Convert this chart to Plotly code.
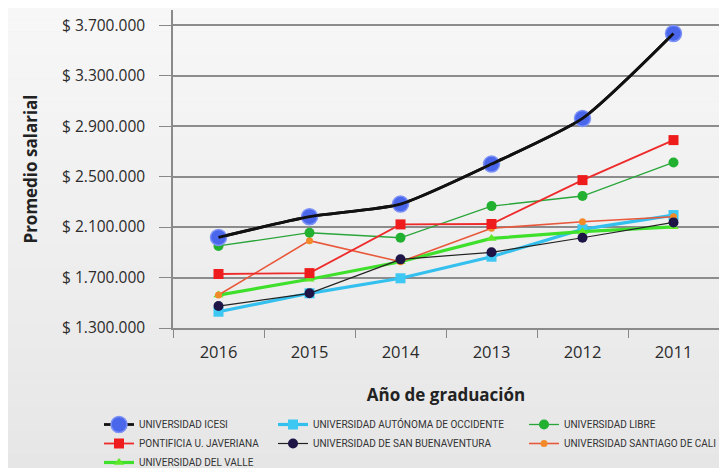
import plotly.graph_objects as go

years = ["2016", "2015", "2014", "2013", "2012", "2011"]

icesi = [2018000, 2182000, 2282000, 2599000, 2961000, 3634000]
javeriana = [1728000, 1735000, 2121000, 2124000, 2472000, 2789000]
libre = [1950000, 2055000, 2015000, 2266000, 2346000, 2612000]
santiago = [1561000, 1992000, 1825000, 2090000, 2142000, 2182000]
del_valle = [1561000, 1686000, 1825000, 2010000, 2063000, 2102000]
autonoma = [1429000, 1575000, 1694000, 1865000, 2082000, 2195000]
san_buenaventura = [1474000, 1575000, 1844000, 1900000, 2015000, 2137000]

y_tick_values = [1300000, 1700000, 2100000, 2500000, 2900000, 3300000, 3700000]
y_tick_labels = ["$ 1.300.000", "$ 1.700.000", "$ 2.100.000", "$ 2.500.000",
                 "$ 2.900.000", "$ 3.300.000", "$ 3.700.000"]

W, H = 727, 468
L, R, T, B = 165, 16, 2, 148
PW = W - L - R

fig = go.Figure()

def add(name, y, line_color, lw, m_color, m_symbol, m_size, legend, rank, shape="linear", m_line=None):
    fig.add_trace(go.Scatter(
        x=years, y=y, name=name, mode="lines+markers",
        line=dict(color=line_color, width=lw, shape=shape, smoothing=0.6),
        marker=dict(color=m_color, symbol=m_symbol, size=m_size,
                    line=m_line or dict(width=0)),
        legend=legend, legendrank=rank, hoverinfo="x+y+name",
    ))

add("UNIVERSIDAD AUTÓNOMA DE OCCIDENTE", autonoma, "#33c0ee", 3.2, "#3cc8f2", "square", 10, "legend2", 1)
add("UNIVERSIDAD DEL VALLE", del_valle, "#3fe02c", 3.2, "#5fe82a", "triangle-up", 9, "legend", 3)
add("UNIVERSIDAD SANTIAGO DE CALI", santiago, "#e8583a", 1.6, "#f28a2a", "circle", 7, "legend3", 2)
add("UNIVERSIDAD DE SAN BUENAVENTURA", san_buenaventura, "#222222", 1.2, "#1e1446", "circle", 10, "legend2", 2)
add("UNIVERSIDAD LIBRE", libre, "#2aa53a", 1.3, "#22b030", "circle", 10, "legend3", 1)
add("PONTIFICIA U. JAVERIANA", javeriana, "#ee2a2a", 1.8, "#ee1c1c", "square", 10, "legend", 2)
add("UNIVERSIDAD ICESI", icesi, "#111111", 2.8, "#4a66ea", "circle", 16, "legend", 1,
    shape="spline", m_line=dict(color="#7d92f7", width=1.5))
# ICESI line drawn again above its markers, as in the original
fig.add_trace(go.Scatter(x=years, y=icesi, mode="lines", showlegend=False,
                         line=dict(color="#111111", width=2.8, shape="spline", smoothing=0.6),
                         hoverinfo="skip"))

# subtle vertical background gradient
n = 40
ph = H - T - B
top_p = 1 + T / ph
bot_p = -B / ph
shapes = []
for i in range(n):
    y0 = top_p - (top_p - bot_p) * i / n
    y1 = top_p - (top_p - bot_p) * (i + 1) / n
    c = int(round(247 - (247 - 230) * i / (n - 1)))
    shapes.append(dict(type="rect", xref="paper", yref="paper",
                       x0=-L / PW - 0.01, x1=1 + (R + 5) / PW,
                       y0=y1, y1=y0, line=dict(width=0),
                       fillcolor=f"rgb({c},{c},{c})", layer="below"))

legend_font = dict(family="Roboto, sans-serif", size=10, color="#333333")
leg_common = dict(orientation="v", xref="paper", yref="container",
                  xanchor="left", yanchor="top", bgcolor="rgba(0,0,0,0)",
                  font=legend_font, tracegroupgap=0, itemsizing="trace")

def px_to_paper(px):
    return (px - L) / PW

fig.update_layout(
    width=W, height=H,
    margin=dict(l=L, r=R, t=T, b=B, autoexpand=False),
    paper_bgcolor="#eeeeee",
    plot_bgcolor="rgba(0,0,0,0)",
    shapes=shapes,
    font=dict(family="Open Sans, sans-serif", color="#2b2b2b"),
    legend=dict(x=px_to_paper(91), y=1 - 402 / H, **leg_common),
    legend2=dict(x=px_to_paper(265), y=1 - 402 / H, **leg_common),
    legend3=dict(x=px_to_paper(516), y=1 - 402 / H, **leg_common),
    xaxis=dict(
        type="category", range=[-0.5, 5.5], tickson="boundaries",
        ticks="outside", ticklen=8, tickcolor="#888888", tickwidth=1.2,
        showgrid=False, showline=True, linecolor="#8a8a8a", linewidth=1.5,
        tickfont=dict(size=16.5, color="#2b2b2b"), ticklabelstandoff=8,
        tickangle=0, automargin=False,
        title=dict(text="<b>Año de graduación</b>", font=dict(size=17, color="#222222"), standoff=28),
        zeroline=False,
    ),
    yaxis=dict(
        range=[1300000, 3820000], tickvals=y_tick_values, ticktext=y_tick_labels,
        ticks="outside", ticklen=12, tickcolor="#888888", tickwidth=1.2,
        showgrid=True, gridcolor="#8c8c8c", gridwidth=1.5,
        showline=True, linecolor="#8a8a8a", linewidth=1.5,
        tickfont=dict(size=15.5, color="#2b2b2b"), ticklabelstandoff=11,
        automargin=False,
        title=dict(text="<b>Promedio salarial</b>", font=dict(size=17, color="#222222"), standoff=20),
        zeroline=False,
    ),
)

fig.write_html("out.html")
